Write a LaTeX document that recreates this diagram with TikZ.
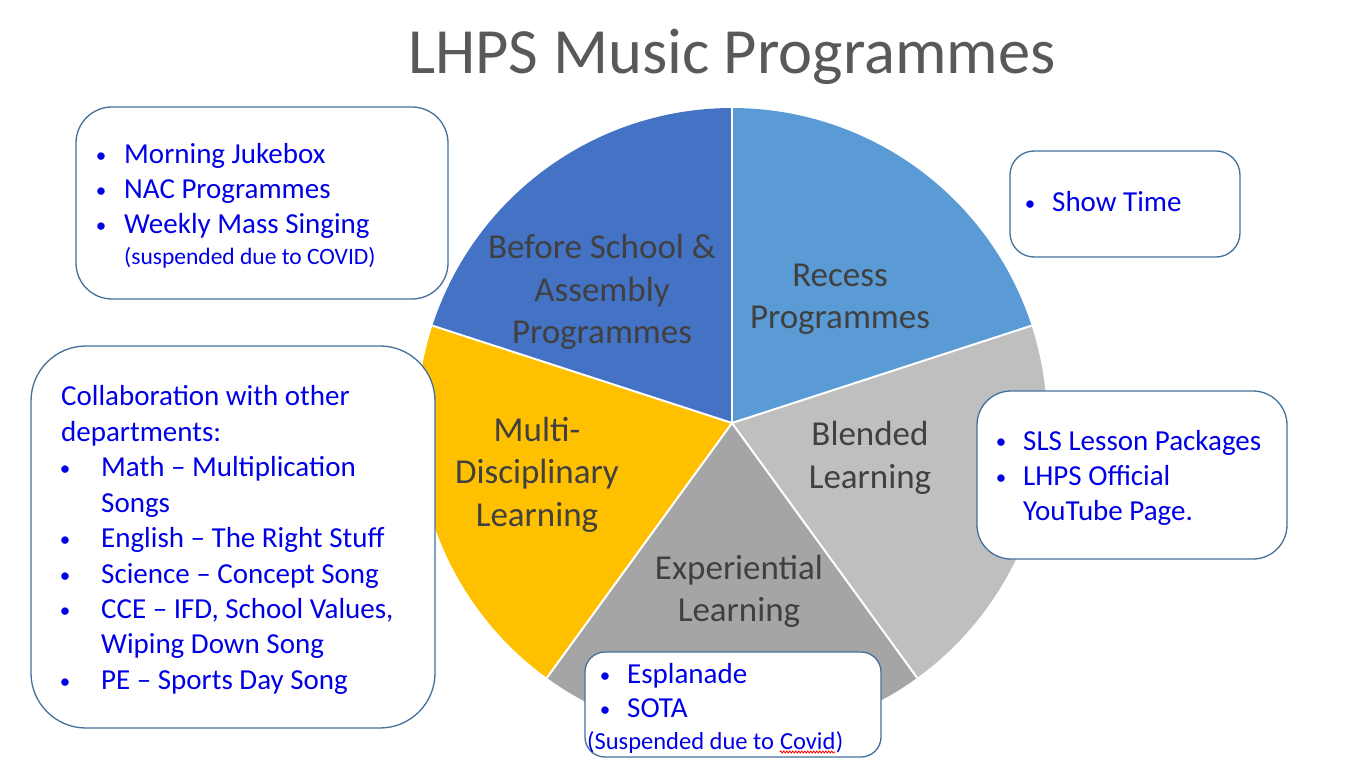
\documentclass[tikz,border=0pt]{standalone}
\usepackage{fontspec}
\setmainfont{Carlito}
\usetikzlibrary{decorations.pathmorphing}
\definecolor{pbefore}{HTML}{4472C4}
\definecolor{precess}{HTML}{5B9BD5}
\definecolor{pblend}{HTML}{BFBFBF}
\definecolor{pexp}{HTML}{A5A5A5}
\definecolor{pmulti}{HTML}{FFC000}
\definecolor{lbl}{HTML}{404040}
\definecolor{ttl}{HTML}{595959}
\definecolor{txtblue}{RGB}{0,0,230}
\definecolor{boxline}{HTML}{41719C}
\tikzset{
  boxst/.style={draw=boxline, line width=1.3pt, fill=white, inner sep=0pt},
  bt/.style={text=txtblue, inner sep=0pt, anchor=base west, font=\fontsize{29}{35}\selectfont},
  bb/.style={text=txtblue, inner sep=0pt, anchor=base, font=\fontsize{21}{35}\selectfont},
  bs/.style={text=txtblue, inner sep=0pt, anchor=base west, font=\fontsize{23.5}{28}\selectfont},
  pl/.style={text=lbl, inner sep=0pt, anchor=base, font=\fontsize{35}{43}\selectfont},
}
\begin{document}
\begin{tikzpicture}[x=1pt,y=-1pt]
\useasboundingbox (0,0) rectangle (1369,767);
\fill[white] (0,0) rectangle (1369,767);
% title
\node[text=ttl, inner sep=0pt, anchor=base, font=\fontsize{64.5}{70}\selectfont] (title) at (732,74) {LHPS Music Programmes};
% pie
\begin{scope}[shift={(732,423)}, y=1pt]
\coordinate (c) at (0,0);
\fill[pbefore] (0,0) -- plot[domain=90:162, samples=60] ({315*cos(\x)},{315*sin(\x)}) -- cycle;
\fill[precess] (0,0) -- plot[domain=18:90, samples=60] ({315*cos(\x)},{315*sin(\x)}) -- cycle;
\fill[pblend] (0,0) -- plot[domain=-54:18, samples=60] ({315*cos(\x)},{315*sin(\x)}) -- cycle;
\fill[pexp] (0,0) -- plot[domain=-126:-54, samples=60] ({315*cos(\x)},{315*sin(\x)}) -- cycle;
\fill[pmulti] (0,0) -- plot[domain=162:234, samples=60] ({315*cos(\x)},{315*sin(\x)}) -- cycle;
\foreach \a in {90,18,-54,-126,162} \draw[white, line width=2pt] (c) -- (\a:315);
\end{scope}
% pie labels
\node[pl] (l1a) at (602,259) {Before School \&};
\node[pl] (l1b) at (602,302) {Assembly};
\node[pl] (l1c) at (602,344) {Programmes};
\node[pl] (l2a) at (840,287) {Recess};
\node[pl] (l2b) at (840,329) {Programmes};
\node[pl] (l3a) at (870,446) {Blended};
\node[pl] (l3b) at (870,488) {Learning};
\node[pl] (l4a) at (739,579) {Experiential};
\node[pl] (l4b) at (739,621) {Learning};
\node[pl] (l5a) at (537,441) {Multi-};
\node[pl] (l5b) at (537,483) {Disciplinary};
\node[pl] (l5c) at (537,526) {Learning};
% boxes
\node[boxst, rounded corners=36pt, minimum width=372pt, minimum height=192pt] (box1) at (262,203) {};
\node[boxst, rounded corners=55pt, minimum width=404pt, minimum height=382pt] (box2) at (233,537) {};
\node[boxst, rounded corners=24pt, minimum width=230pt, minimum height=106pt] (box3) at (1125,204) {};
\node[boxst, rounded corners=34pt, minimum width=310pt, minimum height=168pt] (box4) at (1132,475) {};
\node[boxst, rounded corners=20pt, minimum width=296pt, minimum height=105pt] (box5) at (733,704.5) {};
% box1 text
\node[bb] (b1a) at (101,163) {\textbullet};
\node[bt] (t1a) at (124,164) {Morning Jukebox};
\node[bb] (b1b) at (101,198) {\textbullet};
\node[bt] (t1b) at (124,199) {NAC Programmes};
\node[bb] (b1c) at (101,233) {\textbullet};
\node[bt] (t1c) at (124,234) {Weekly Mass Singing};
\node[bs] (t1d) at (124,265) {(suspended due to COVID)};
% box2 text
\node[bt] (t2a) at (61,406) {Collaboration with other};
\node[bt] (t2b) at (61,441) {departments:};
\node[bb] (b2a) at (65,475) {\textbullet};
\node[bt] (t2c) at (101,476) {Math – Multiplication};
\node[bt] (t2d) at (101,512) {Songs};
\node[bb] (b2b) at (65,546) {\textbullet};
\node[bt] (t2e) at (101,547) {English – The Right Stuff};
\node[bb] (b2c) at (65,582) {\textbullet};
\node[bt] (t2f) at (101,583) {Science – Concept Song};
\node[bb] (b2d) at (65,617) {\textbullet};
\node[bt] (t2g) at (101,618) {CCE – IFD, School Values,};
\node[bt] (t2h) at (101,653) {Wiping Down Song};
\node[bb] (b2e) at (65,688) {\textbullet};
\node[bt] (t2i) at (101,689) {PE – Sports Day Song};
% box3 text
\node[bb] (b3a) at (1030,211) {\textbullet};
\node[bt] (t3a) at (1052,212) {Show Time};
% box4 text
\node[bb] (b4a) at (1001,449) {\textbullet};
\node[bt] (t4a) at (1023,450) {SLS Lesson Packages};
\node[bb] (b4b) at (1001,484) {\textbullet};
\node[bt] (t4b) at (1023,485) {LHPS Official};
\node[bt] (t4c) at (1023,520) {YouTube Page.};
% box5 text
\node[bb] (b5a) at (605,682) {\textbullet};
\node[bt] (t5a) at (627,683) {Esplanade};
\node[bb] (b5b) at (605,716) {\textbullet};
\node[bt] (t5b) at (627,717) {SOTA};
\node[bs, font=\fontsize{24.5}{28}\selectfont] (t5c) at (587,749) {(Suspended due to};
\node[bs, font=\fontsize{24.5}{28}\selectfont] (cv) at ([xshift=5.5pt]t5c.base east) {Covid};
\node[bs, font=\fontsize{24.5}{28}\selectfont] (t5d) at (cv.base east) {)};
\draw[red, line width=0.8pt, decorate, decoration={snake, amplitude=1pt, segment length=3pt}] ([yshift=-3pt]cv.base west) -- ([yshift=-3pt]cv.base east);
\end{tikzpicture}
\end{document}
